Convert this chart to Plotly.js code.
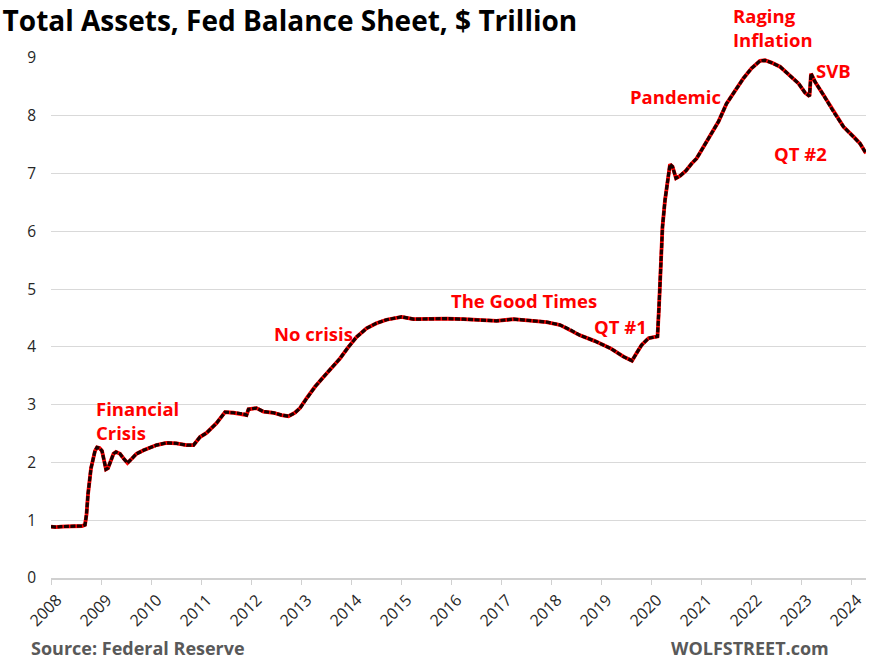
<!DOCTYPE html>
<html>
<head>
<meta charset="utf-8">
<script src="https://cdn.plot.ly/plotly-3.0.1.min.js"></script>
<style>
  html, body { margin: 0; padding: 0; background: #ffffff; }
  #chart { width: 870px; height: 668px; }
</style>
</head>
<body>
<div id="chart"></div>
<script>
// Dates as decimal years (readings from the reference picture)
const years = [
  2008.00, 2008.10, 2008.20, 2008.30, 2008.40, 2008.50, 2008.62, 2008.68, 2008.71, 2008.74,
  2008.77, 2008.80, 2008.84, 2008.88, 2008.92, 2008.97, 2009.02, 2009.06, 2009.10, 2009.14,
  2009.19, 2009.25, 2009.30, 2009.38, 2009.45, 2009.53, 2009.61, 2009.71, 2009.85, 2009.98,
  2010.11, 2010.31, 2010.51, 2010.71, 2010.85, 2010.98, 2011.11, 2011.31, 2011.48, 2011.65,
  2011.85, 2011.91, 2011.95, 2012.11, 2012.25, 2012.45, 2012.61, 2012.75, 2012.88, 2012.98,
  2013.11, 2013.28, 2013.45, 2013.61, 2013.78, 2013.95, 2014.11, 2014.31, 2014.51, 2014.71,
  2014.91, 2015.01, 2015.25, 2015.58, 2015.91, 2016.25, 2016.58, 2016.91, 2017.25, 2017.58,
  2017.91, 2018.18, 2018.40, 2018.58, 2018.88, 2019.20, 2019.45, 2019.62, 2019.71, 2019.81,
  2019.95, 2020.05, 2020.13, 2020.16, 2020.19, 2020.23, 2020.28, 2020.33, 2020.38, 2020.43,
  2020.50, 2020.58, 2020.70, 2020.81, 2020.91, 2020.98, 2021.11, 2021.18, 2021.35, 2021.51,
  2021.68, 2021.85, 2022.01, 2022.18, 2022.28, 2022.41, 2022.58, 2022.78, 2022.95, 2023.08,
  2023.17, 2023.20, 2023.28, 2023.45, 2023.65, 2023.85, 2024.05, 2024.18, 2024.30
];
// Total assets, $ trillion
const totalAssets = [
  0.89, 0.88, 0.89, 0.89, 0.89, 0.90, 0.90, 0.92, 1.10, 1.45,
  1.75, 1.90, 2.05, 2.20, 2.26, 2.25, 2.20, 2.05, 1.88, 1.90,
  2.00, 2.15, 2.18, 2.15, 2.07, 1.99, 2.06, 2.15, 2.21, 2.25,
  2.30, 2.34, 2.33, 2.30, 2.30, 2.44, 2.51, 2.68, 2.87, 2.86,
  2.84, 2.82, 2.92, 2.94, 2.88, 2.86, 2.82, 2.80, 2.86, 2.94,
  3.11, 3.31, 3.48, 3.63, 3.80, 4.00, 4.17, 4.32, 4.41, 4.47,
  4.51, 4.52, 4.48, 4.49, 4.49, 4.48, 4.46, 4.45, 4.48, 4.46,
  4.43, 4.38, 4.29, 4.20, 4.10, 3.97, 3.83, 3.76, 3.89, 4.03,
  4.15, 4.17, 4.18, 4.69, 5.27, 6.08, 6.54, 6.89, 7.16, 7.12,
  6.92, 6.96, 7.05, 7.17, 7.26, 7.36, 7.55, 7.64, 7.90, 8.21,
  8.44, 8.65, 8.82, 8.95, 8.96, 8.92, 8.85, 8.70, 8.56, 8.40,
  8.34, 8.73, 8.59, 8.36, 8.07, 7.81, 7.64, 7.52, 7.35
];
const tickYears = [2008, 2009, 2010, 2011, 2012, 2013, 2014, 2015, 2016, 2017, 2018, 2019, 2020, 2021, 2022, 2023, 2024];
const tickLabels = tickYears.map(String);
const yTicks = [0, 1, 2, 3, 4, 5, 6, 7, 8, 9];

// Event labels (x in years, y in $ trillion)
const noteText = ["Financial<br>Crisis", "No crisis", "The Good Times", "QT #1", "Pandemic", "Raging<br>Inflation", "SVB", "QT #2"];
const noteX = [2008.86, 2012.42, 2015.96, 2018.82, 2019.54, 2021.60, 2023.26, 2022.42];
const noteY = [2.73, 4.24, 4.81, 4.36, 8.34, 9.52, 8.79, 7.35];

const FONT = "'Open Sans', 'Noto Sans', sans-serif";
const Y_MAX = 9;

const traces = [
  { x: years, y: totalAssets, type: 'scatter', mode: 'lines',
    line: { color: '#ff0000', width: 3.8 }, hoverinfo: 'skip', showlegend: false },
  { x: years, y: totalAssets, type: 'scatter', mode: 'lines',
    line: { color: '#1a0000', width: 3.2, dash: '5px,1.5px' }, hoverinfo: 'skip', showlegend: false }
];

const annotations = noteText.map((t, i) => {
  const inside = noteY[i] <= Y_MAX;
  return {
    x: noteX[i], xref: 'x',
    y: inside ? noteY[i] : noteY[i] / Y_MAX, yref: inside ? 'y' : 'paper',
    text: t, showarrow: false, xanchor: 'left', yanchor: 'middle', align: 'left',
    font: { family: FONT, size: 18.5, color: '#ff0000', weight: 'bold' }
  };
});

const layout = {
  width: 870, height: 668,
  paper_bgcolor: '#ffffff', plot_bgcolor: '#ffffff',
  margin: { l: 51, r: 4, t: 58, b: 90 },
  title: { text: 'Total Assets, Fed Balance Sheet, $ Trillion', x: 0.003, xanchor: 'left', y: 0.968, yanchor: 'middle',
           font: { family: FONT, size: 28, color: '#000000', weight: 'bold' } },
  xaxis: {
    range: [2008, 2024.3], tickvals: tickYears, ticktext: tickLabels, tickangle: -45,
    showgrid: false, zeroline: false, showline: true, linecolor: '#d0d0d0', linewidth: 1.5,
    ticks: 'outside', ticklen: 5, tickcolor: '#d0d0d0', tickwidth: 1, ticklabelshift: 6,
    tickfont: { family: FONT, size: 16, color: '#262626' }
  },
  yaxis: {
    range: [0, Y_MAX], tickvals: yTicks, showgrid: true, gridcolor: '#d9d9d9', gridwidth: 1.2,
    zeroline: false, showline: false, ticks: '', ticklabelstandoff: 14,
    tickfont: { family: FONT, size: 15.5, color: '#262626' }
  },
  annotations: annotations.concat([
    { xref: 'paper', yref: 'paper', x: -0.0265, y: -0.135, xanchor: 'left', yanchor: 'middle',
      text: 'Source: Federal Reserve', showarrow: false,
      font: { family: FONT, size: 18, color: '#595959', weight: 'bold' } },
    { xref: 'paper', yref: 'paper', x: 0.957, y: -0.135, xanchor: 'right', yanchor: 'middle',
      text: 'WOLFSTREET.com', showarrow: false,
      font: { family: FONT, size: 18, color: '#595959', weight: 'bold' } }
  ]),
  showlegend: false
};

Plotly.newPlot('chart', traces, layout, { displayModeBar: false, staticPlot: true });
</script>
</body>
</html>
